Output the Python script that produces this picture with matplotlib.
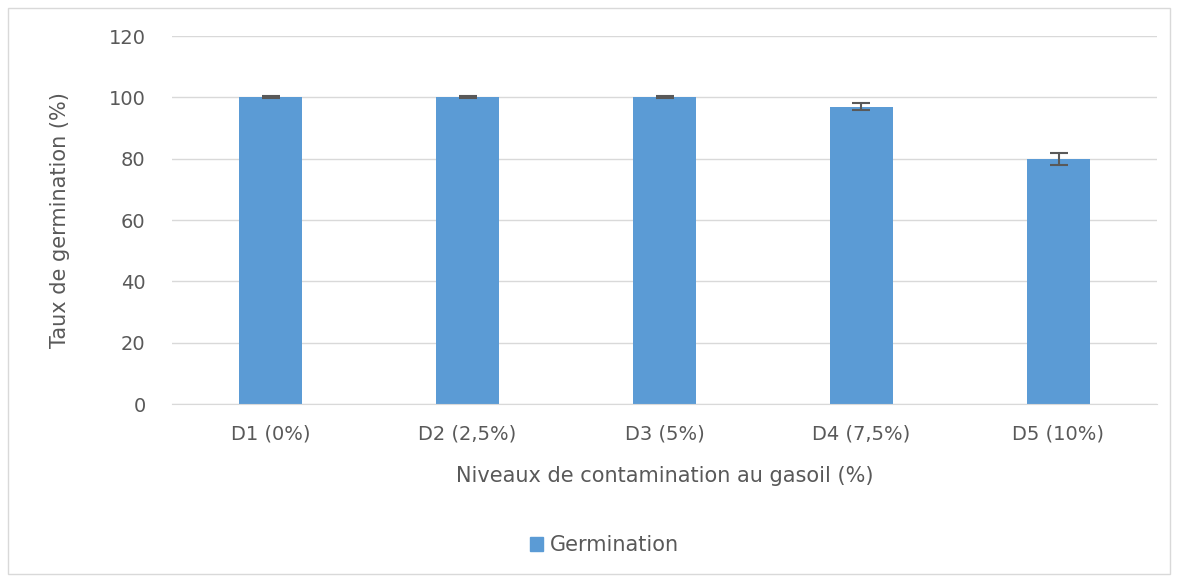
import matplotlib
matplotlib.use("Agg")
import matplotlib.pyplot as plt
from matplotlib.patches import Rectangle

categories = ["D1 (0%)", "D2 (2,5%)", "D3 (5%)", "D4 (7,5%)", "D5 (10%)"]
germination = [100, 100, 100, 97, 80]
errors = [0.3, 0.3, 0.3, 1.0, 2.0]
yticks = [0, 20, 40, 60, 80, 100, 120]

plt.rcParams['font.family'] = ['DejaVu Sans']
txt = '#595959'
blue = '#5B9BD5'

fig = plt.figure(figsize=(11.78, 5.77), dpi=100)
fig.patches.append(Rectangle((8/1178, 3/577), 1162/1178, 566/577, transform=fig.transFigure,
                             fill=False, edgecolor='#d9d9d9', lw=1))
ax = fig.add_axes([172/1178, 1-404/577, 985/1178, 368/577])
x = range(len(categories))
ax.bar(x, germination, width=0.315, color=blue, label='Germination', zorder=2)
ax.errorbar(x, germination, yerr=errors, fmt='none', ecolor='#595959', elinewidth=1.5,
            capsize=6.5, capthick=1.5, zorder=3)
ax.set_ylim(0, 120)
ax.set_xlim(-0.5, 4.5)
ax.set_yticks(yticks)
ax.set_xticks(list(x))
ax.set_xticklabels(categories)
ax.yaxis.grid(True, color='#d9d9d9', lw=1, zorder=0)
ax.set_axisbelow(True)
for s in ['top', 'right', 'left']:
    ax.spines[s].set_visible(False)
ax.spines['bottom'].set_color('#d9d9d9')
ax.tick_params(axis='both', length=0, labelsize=14, colors=txt)
ax.tick_params(axis='y', pad=19)
ax.tick_params(axis='x', pad=15)
ax.set_xlabel("Niveaux de contamination au gasoil (%)", fontsize=15, color=txt, labelpad=16)
ax.set_ylabel("Taux de germination (%)", fontsize=15, color=txt, labelpad=28)
fig.legend(handles=[Rectangle((0, 0), 1, 1, color=blue)], labels=['Germination'],
           loc='center', bbox_to_anchor=(0.513, 1-545/577), frameon=False, fontsize=15,
           handlelength=0.65, handleheight=0.65, handletextpad=0.3, labelcolor=txt)
fig.savefig('out.png', dpi=100)
